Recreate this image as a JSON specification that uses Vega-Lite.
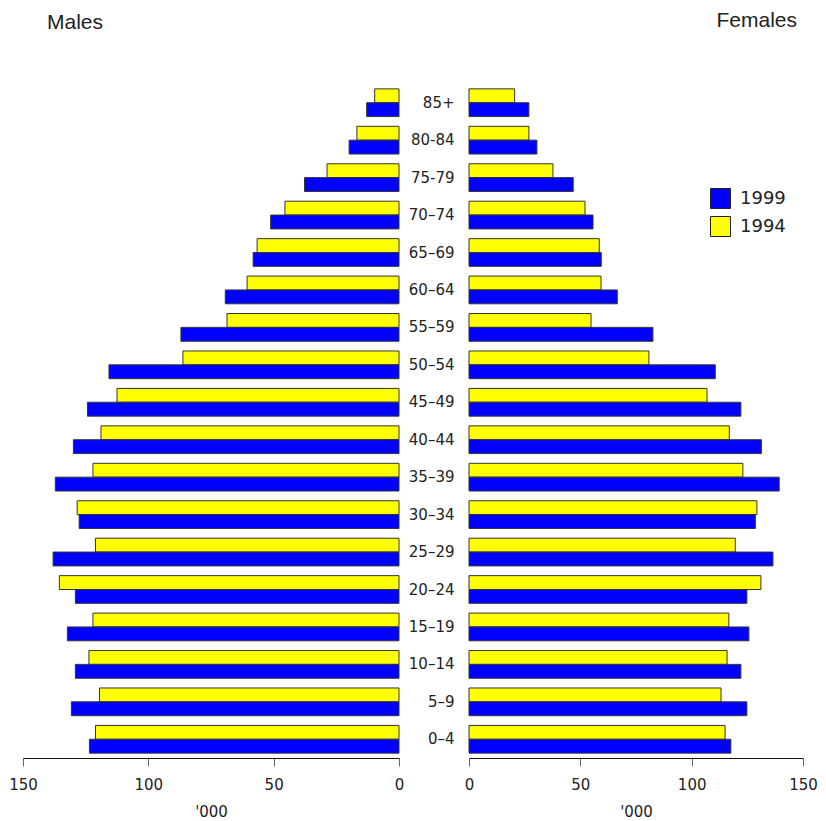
{
  "$schema": "https://vega.github.io/schema/vega-lite/v6.json",
  "background": "white",
  "padding": {"left": 8, "top": 10, "right": 0, "bottom": 0},
  "config": {
    "view": {"stroke": null},
    "font": "DejaVu Sans",
    "axis": {"grid": false, "domainColor": "#111", "tickColor": "#666", "tickSize": 8, "labelFont": "DejaVu Sans", "labelFontSize": 15, "labelColor": "#222", "labelPadding": 11, "titleFont": "DejaVu Sans", "titleFontSize": 15, "titleFontWeight": "normal", "titleColor": "#222", "titlePadding": 12, "labelFlush": false}
  },
  "datasets": {
    "pop": [
      {"sex": "M", "age": "85+", "year": "1994", "value": 9.7},
      {"sex": "M", "age": "85+", "year": "1999", "value": 12.9},
      {"sex": "M", "age": "80-84", "year": "1994", "value": 16.8},
      {"sex": "M", "age": "80-84", "year": "1999", "value": 19.9},
      {"sex": "M", "age": "75-79", "year": "1994", "value": 28.7},
      {"sex": "M", "age": "75-79", "year": "1999", "value": 37.7},
      {"sex": "M", "age": "70–74", "year": "1994", "value": 45.5},
      {"sex": "M", "age": "70–74", "year": "1999", "value": 51.2},
      {"sex": "M", "age": "65–69", "year": "1994", "value": 56.6},
      {"sex": "M", "age": "65–69", "year": "1999", "value": 58.2},
      {"sex": "M", "age": "60–64", "year": "1994", "value": 60.6},
      {"sex": "M", "age": "60–64", "year": "1999", "value": 69.3},
      {"sex": "M", "age": "55–59", "year": "1994", "value": 68.6},
      {"sex": "M", "age": "55–59", "year": "1999", "value": 87.0},
      {"sex": "M", "age": "50–54", "year": "1994", "value": 86.2},
      {"sex": "M", "age": "50–54", "year": "1999", "value": 115.7},
      {"sex": "M", "age": "45–49", "year": "1994", "value": 112.5},
      {"sex": "M", "age": "45–49", "year": "1999", "value": 124.3},
      {"sex": "M", "age": "40–44", "year": "1994", "value": 118.9},
      {"sex": "M", "age": "40–44", "year": "1999", "value": 129.9},
      {"sex": "M", "age": "35–39", "year": "1994", "value": 122.1},
      {"sex": "M", "age": "35–39", "year": "1999", "value": 137.1},
      {"sex": "M", "age": "30–34", "year": "1994", "value": 128.4},
      {"sex": "M", "age": "30–34", "year": "1999", "value": 127.6},
      {"sex": "M", "age": "25–29", "year": "1994", "value": 121.1},
      {"sex": "M", "age": "25–29", "year": "1999", "value": 138.0},
      {"sex": "M", "age": "20–24", "year": "1994", "value": 135.5},
      {"sex": "M", "age": "20–24", "year": "1999", "value": 129.1},
      {"sex": "M", "age": "15–19", "year": "1994", "value": 122.1},
      {"sex": "M", "age": "15–19", "year": "1999", "value": 132.3},
      {"sex": "M", "age": "10–14", "year": "1994", "value": 123.7},
      {"sex": "M", "age": "10–14", "year": "1999", "value": 129.1},
      {"sex": "M", "age": "5–9", "year": "1994", "value": 119.5},
      {"sex": "M", "age": "5–9", "year": "1999", "value": 130.7},
      {"sex": "M", "age": "0–4", "year": "1994", "value": 121.1},
      {"sex": "M", "age": "0–4", "year": "1999", "value": 123.5},
      {"sex": "F", "age": "85+", "year": "1994", "value": 20.5},
      {"sex": "F", "age": "85+", "year": "1999", "value": 26.9},
      {"sex": "F", "age": "80-84", "year": "1994", "value": 26.9},
      {"sex": "F", "age": "80-84", "year": "1999", "value": 30.5},
      {"sex": "F", "age": "75-79", "year": "1994", "value": 37.7},
      {"sex": "F", "age": "75-79", "year": "1999", "value": 46.8},
      {"sex": "F", "age": "70–74", "year": "1994", "value": 52.1},
      {"sex": "F", "age": "70–74", "year": "1999", "value": 55.7},
      {"sex": "F", "age": "65–69", "year": "1994", "value": 58.5},
      {"sex": "F", "age": "65–69", "year": "1999", "value": 59.4},
      {"sex": "F", "age": "60–64", "year": "1994", "value": 59.3},
      {"sex": "F", "age": "60–64", "year": "1999", "value": 66.6},
      {"sex": "F", "age": "55–59", "year": "1994", "value": 54.8},
      {"sex": "F", "age": "55–59", "year": "1999", "value": 82.6},
      {"sex": "F", "age": "50–54", "year": "1994", "value": 80.8},
      {"sex": "F", "age": "50–54", "year": "1999", "value": 110.6},
      {"sex": "F", "age": "45–49", "year": "1994", "value": 106.9},
      {"sex": "F", "age": "45–49", "year": "1999", "value": 122.1},
      {"sex": "F", "age": "40–44", "year": "1994", "value": 116.9},
      {"sex": "F", "age": "40–44", "year": "1999", "value": 131.3},
      {"sex": "F", "age": "35–39", "year": "1994", "value": 123.0},
      {"sex": "F", "age": "35–39", "year": "1999", "value": 139.3},
      {"sex": "F", "age": "30–34", "year": "1994", "value": 129.3},
      {"sex": "F", "age": "30–34", "year": "1999", "value": 128.6},
      {"sex": "F", "age": "25–29", "year": "1994", "value": 119.6},
      {"sex": "F", "age": "25–29", "year": "1999", "value": 136.5},
      {"sex": "F", "age": "20–24", "year": "1994", "value": 131.1},
      {"sex": "F", "age": "20–24", "year": "1999", "value": 124.8},
      {"sex": "F", "age": "15–19", "year": "1994", "value": 116.7},
      {"sex": "F", "age": "15–19", "year": "1999", "value": 125.7},
      {"sex": "F", "age": "10–14", "year": "1994", "value": 115.9},
      {"sex": "F", "age": "10–14", "year": "1999", "value": 122.1},
      {"sex": "F", "age": "5–9", "year": "1994", "value": 113.2},
      {"sex": "F", "age": "5–9", "year": "1999", "value": 124.8},
      {"sex": "F", "age": "0–4", "year": "1994", "value": 115.0},
      {"sex": "F", "age": "0–4", "year": "1999", "value": 117.6}
    ]
  },
  "data": {"name": "pop"},
  "spacing": 70,
  "bounds": "flush",
  "resolve": {"scale": {"color": "independent"}},
  "hconcat": [
    {
      "width": 376,
      "height": 674,
      "title": {"text": "Males", "anchor": "start", "frame": "group", "font": "Liberation Sans", "fontSize": 21, "fontWeight": "normal", "color": "#222", "dx": 24, "offset": 51},
      "transform": [{"filter": "datum.sex === 'M'"}],
      "mark": {"type": "bar", "stroke": "#333", "strokeWidth": 1},
      "encoding": {
        "y": {"field": "age", "type": "nominal", "sort": ["85+", "80-84", "75-79", "70–74", "65–69", "60–64", "55–59", "50–54", "45–49", "40–44", "35–39", "30–34", "25–29", "20–24", "15–19", "10–14", "5–9", "0–4"], "scale": {"paddingInner": 0.26, "paddingOuter": 0.13}, "axis": null},
        "yOffset": {"field": "year", "type": "nominal", "sort": ["1994", "1999"], "scale": {"paddingInner": 0, "paddingOuter": 0}},
        "x": {"field": "value", "type": "quantitative", "scale": {"domain": [0, 150], "reverse": true, "nice": false}, "axis": {"values": [0, 50, 100, 150], "title": "'000"}},
        "color": {"field": "year", "type": "nominal", "scale": {"domain": ["1999", "1994"], "range": ["#0000FF", "#FFFF00"]}, "legend": null}
      }
    },
    {
      "width": 334,
      "height": 674,
      "title": {"text": "Females", "anchor": "end", "frame": "group", "font": "Liberation Sans", "fontSize": 21, "fontWeight": "normal", "color": "#222", "dx": -6, "offset": 53},
      "transform": [{"filter": "datum.sex === 'F'"}],
      "mark": {"type": "bar", "stroke": "#333", "strokeWidth": 1},
      "encoding": {
        "y": {"field": "age", "type": "nominal", "sort": ["85+", "80-84", "75-79", "70–74", "65–69", "60–64", "55–59", "50–54", "45–49", "40–44", "35–39", "30–34", "25–29", "20–24", "15–19", "10–14", "5–9", "0–4"], "scale": {"paddingInner": 0.26, "paddingOuter": 0.13}, "axis": {"title": null, "domain": false, "ticks": false, "labelPadding": 15, "labelFontSize": 15}},
        "yOffset": {"field": "year", "type": "nominal", "sort": ["1994", "1999"], "scale": {"paddingInner": 0, "paddingOuter": 0}},
        "x": {"field": "value", "type": "quantitative", "scale": {"domain": [0, 150], "nice": false}, "axis": {"values": [0, 50, 100, 150], "title": "'000"}},
        "color": {"field": "year", "type": "nominal", "scale": {"domain": ["1999", "1994"], "range": ["#0000FF", "#FFFF00"]}, "legend": {"orient": "none", "legendX": 241, "legendY": 104, "title": null, "symbolType": "square", "symbolSize": 400, "symbolStrokeColor": "#222", "symbolStrokeWidth": 1, "symbolFillOpacity": 1, "labelFont": "DejaVu Sans", "labelFontSize": 18, "labelColor": "#222", "labelOffset": 9, "rowPadding": 3}}
      }
    }
  ]
}
